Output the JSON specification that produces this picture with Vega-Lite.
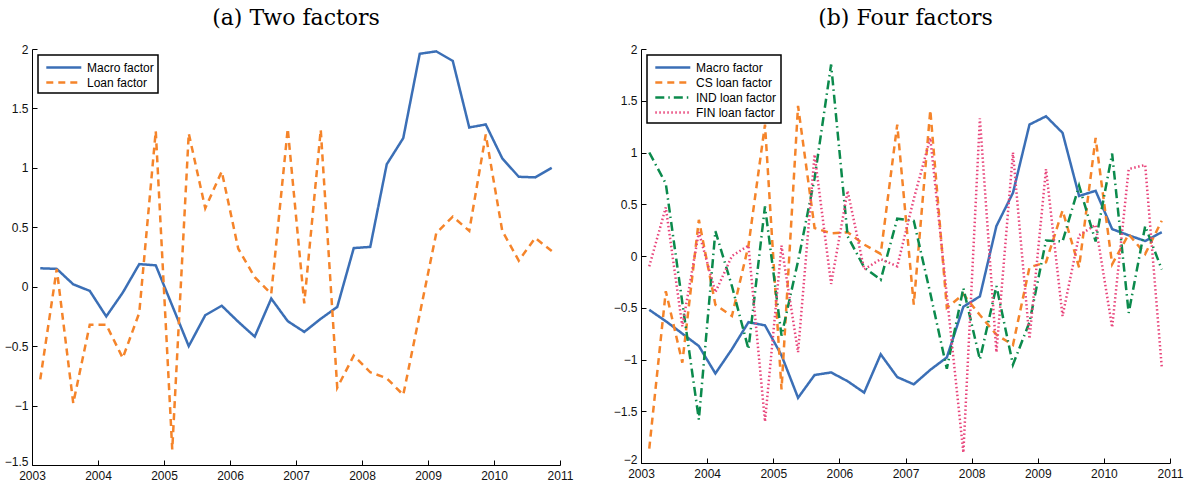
{
  "$schema": "https://vega.github.io/schema/vega-lite/v6.json",
  "background": "white",
  "padding": {"left": 4, "top": 7, "right": 12, "bottom": 2},
  "datasets": {
    "two": [
      {"t": 2003.125, "Macro factor": 0.155, "Loan factor": -0.78},
      {"t": 2003.375, "Macro factor": 0.15, "Loan factor": 0.15},
      {"t": 2003.625, "Macro factor": 0.02, "Loan factor": -0.98},
      {"t": 2003.875, "Macro factor": -0.035, "Loan factor": -0.32},
      {"t": 2004.125, "Macro factor": -0.25, "Loan factor": -0.32},
      {"t": 2004.375, "Macro factor": -0.05, "Loan factor": -0.6},
      {"t": 2004.625, "Macro factor": 0.19, "Loan factor": -0.22},
      {"t": 2004.875, "Macro factor": 0.18, "Loan factor": 1.31},
      {"t": 2005.125, "Macro factor": -0.16, "Loan factor": -1.37},
      {"t": 2005.375, "Macro factor": -0.5, "Loan factor": 1.29},
      {"t": 2005.625, "Macro factor": -0.24, "Loan factor": 0.66},
      {"t": 2005.875, "Macro factor": -0.16, "Loan factor": 0.97},
      {"t": 2006.125, "Macro factor": -0.295, "Loan factor": 0.32},
      {"t": 2006.375, "Macro factor": -0.42, "Loan factor": 0.08},
      {"t": 2006.625, "Macro factor": -0.1, "Loan factor": -0.06},
      {"t": 2006.875, "Macro factor": -0.29, "Loan factor": 1.33},
      {"t": 2007.125, "Macro factor": -0.38, "Loan factor": -0.14},
      {"t": 2007.375, "Macro factor": -0.27, "Loan factor": 1.32},
      {"t": 2007.625, "Macro factor": -0.17, "Loan factor": -0.85},
      {"t": 2007.875, "Macro factor": 0.325, "Loan factor": -0.58},
      {"t": 2008.125, "Macro factor": 0.335, "Loan factor": -0.72},
      {"t": 2008.375, "Macro factor": 1.03, "Loan factor": -0.77},
      {"t": 2008.625, "Macro factor": 1.25, "Loan factor": -0.91},
      {"t": 2008.875, "Macro factor": 1.96, "Loan factor": -0.23},
      {"t": 2009.125, "Macro factor": 1.98, "Loan factor": 0.45},
      {"t": 2009.375, "Macro factor": 1.9, "Loan factor": 0.59},
      {"t": 2009.625, "Macro factor": 1.34, "Loan factor": 0.47},
      {"t": 2009.875, "Macro factor": 1.365, "Loan factor": 1.28},
      {"t": 2010.125, "Macro factor": 1.08, "Loan factor": 0.47},
      {"t": 2010.375, "Macro factor": 0.925, "Loan factor": 0.22},
      {"t": 2010.625, "Macro factor": 0.92, "Loan factor": 0.41},
      {"t": 2010.875, "Macro factor": 1.0, "Loan factor": 0.3}
    ],
    "four": [
      {"t": 2003.125, "Macro factor": -0.52, "CS loan factor": -1.86, "IND loan factor": 1.0, "FIN loan factor": -0.1},
      {"t": 2003.375, "Macro factor": -0.63, "CS loan factor": -0.34, "IND loan factor": 0.7, "FIN loan factor": 0.47},
      {"t": 2003.625, "Macro factor": -0.75, "CS loan factor": -1.03, "IND loan factor": -0.45, "FIN loan factor": -0.68},
      {"t": 2003.875, "Macro factor": -0.87, "CS loan factor": 0.35, "IND loan factor": -1.58, "FIN loan factor": 0.23},
      {"t": 2004.125, "Macro factor": -1.135, "CS loan factor": -0.47, "IND loan factor": 0.24, "FIN loan factor": -0.35},
      {"t": 2004.375, "Macro factor": -0.9, "CS loan factor": -0.58, "IND loan factor": -0.29, "FIN loan factor": 0.0},
      {"t": 2004.625, "Macro factor": -0.64, "CS loan factor": 0.1, "IND loan factor": -0.9, "FIN loan factor": 0.1},
      {"t": 2004.875, "Macro factor": -0.67, "CS loan factor": 1.27, "IND loan factor": 0.48, "FIN loan factor": -1.6},
      {"t": 2005.125, "Macro factor": -0.96, "CS loan factor": -1.29, "IND loan factor": -0.77, "FIN loan factor": 0.1},
      {"t": 2005.375, "Macro factor": -1.37, "CS loan factor": 1.45, "IND loan factor": -0.05, "FIN loan factor": -0.93},
      {"t": 2005.625, "Macro factor": -1.15, "CS loan factor": 0.27, "IND loan factor": 0.75, "FIN loan factor": 0.98},
      {"t": 2005.875, "Macro factor": -1.125, "CS loan factor": 0.22, "IND loan factor": 1.85, "FIN loan factor": -0.27},
      {"t": 2006.125, "Macro factor": -1.21, "CS loan factor": 0.23, "IND loan factor": 0.19, "FIN loan factor": 0.63},
      {"t": 2006.375, "Macro factor": -1.32, "CS loan factor": 0.11, "IND loan factor": -0.11, "FIN loan factor": -0.13},
      {"t": 2006.625, "Macro factor": -0.95, "CS loan factor": 0.02, "IND loan factor": -0.23, "FIN loan factor": -0.03},
      {"t": 2006.875, "Macro factor": -1.17, "CS loan factor": 1.27, "IND loan factor": 0.36, "FIN loan factor": -0.1},
      {"t": 2007.125, "Macro factor": -1.24, "CS loan factor": -0.47, "IND loan factor": 0.34, "FIN loan factor": 0.55},
      {"t": 2007.375, "Macro factor": -1.1, "CS loan factor": 1.41, "IND loan factor": -0.36, "FIN loan factor": 1.14},
      {"t": 2007.625, "Macro factor": -0.98, "CS loan factor": -0.5, "IND loan factor": -1.09, "FIN loan factor": -0.38},
      {"t": 2007.875, "Macro factor": -0.49, "CS loan factor": -0.37, "IND loan factor": -0.31, "FIN loan factor": -1.9},
      {"t": 2008.125, "Macro factor": -0.39, "CS loan factor": -0.57, "IND loan factor": -1.0, "FIN loan factor": 1.33},
      {"t": 2008.375, "Macro factor": 0.29, "CS loan factor": -0.76, "IND loan factor": -0.29, "FIN loan factor": -0.93},
      {"t": 2008.625, "Macro factor": 0.61, "CS loan factor": -0.86, "IND loan factor": -1.05, "FIN loan factor": 1.0},
      {"t": 2008.875, "Macro factor": 1.27, "CS loan factor": -0.11, "IND loan factor": -0.64, "FIN loan factor": -0.8},
      {"t": 2009.125, "Macro factor": 1.35, "CS loan factor": -0.06, "IND loan factor": 0.15, "FIN loan factor": 0.84},
      {"t": 2009.375, "Macro factor": 1.19, "CS loan factor": 0.44, "IND loan factor": 0.14, "FIN loan factor": -0.58},
      {"t": 2009.625, "Macro factor": 0.58, "CS loan factor": -0.11, "IND loan factor": 0.68, "FIN loan factor": 0.2},
      {"t": 2009.875, "Macro factor": 0.63, "CS loan factor": 1.14, "IND loan factor": 0.14, "FIN loan factor": 0.3},
      {"t": 2010.125, "Macro factor": 0.26, "CS loan factor": -0.08, "IND loan factor": 0.99, "FIN loan factor": -0.69},
      {"t": 2010.375, "Macro factor": 0.2, "CS loan factor": 0.21, "IND loan factor": -0.55, "FIN loan factor": 0.84},
      {"t": 2010.625, "Macro factor": 0.145, "CS loan factor": 0.02, "IND loan factor": 0.29, "FIN loan factor": 0.88},
      {"t": 2010.875, "Macro factor": 0.23, "CS loan factor": 0.34, "IND loan factor": -0.13, "FIN loan factor": -1.07}
    ]
  },
  "spacing": 81,
  "bounds": "flush",
  "hconcat": [
    {
      "width": 528,
      "height": 416,
      "title": "(a) Two factors",
      "data": {"name": "two"},
      "transform": [{"fold": ["Macro factor", "Loan factor"], "as": ["series", "value"]}],
      "mark": {"type": "line", "strokeWidth": 2.5, "strokeCap": "butt"},
      "encoding": {
        "x": {
          "field": "t", "type": "quantitative",
          "scale": {"domain": [2003, 2011], "nice": false, "zero": false},
          "axis": {"values": [2003, 2004, 2005, 2006, 2007, 2008, 2009, 2010, 2011], "format": "d", "title": null}
        },
        "y": {
          "field": "value", "type": "quantitative",
          "scale": {"domain": [-1.5, 2], "nice": false, "zero": false},
          "axis": {
            "values": [-1.5, -1, -0.5, 0, 0.5, 1, 1.5, 2], "format": "~g", "title": null,
            "labelOffset": {"condition": {"test": "datum.value == -1.5", "value": -4}, "value": 0}
          }
        },
        "color": {
          "field": "series", "type": "nominal", "title": null,
          "scale": {"domain": ["Macro factor", "Loan factor"], "range": ["#3b6fb6", "#f5842a"]}
        },
        "strokeDash": {
          "field": "series", "type": "nominal", "title": null,
          "scale": {"domain": ["Macro factor", "Loan factor"], "range": [[1, 0], [7, 5]]}
        }
      }
    },
    {
      "width": 529,
      "height": 414,
      "title": "(b) Four factors",
      "data": {"name": "four"},
      "transform": [{"fold": ["Macro factor", "CS loan factor", "IND loan factor", "FIN loan factor"], "as": ["series", "value"]}],
      "mark": {"type": "line", "strokeCap": "butt"},
      "encoding": {
        "x": {
          "field": "t", "type": "quantitative",
          "scale": {"domain": [2003, 2011], "nice": false, "zero": false},
          "axis": {"values": [2003, 2004, 2005, 2006, 2007, 2008, 2009, 2010, 2011], "format": "d", "title": null}
        },
        "y": {
          "field": "value", "type": "quantitative",
          "scale": {"domain": [-2, 2], "nice": false, "zero": false},
          "axis": {
            "values": [-2, -1.5, -1, -0.5, 0, 0.5, 1, 1.5, 2], "format": "~g", "title": null,
            "labelOffset": {"condition": {"test": "datum.value == -2", "value": -4}, "value": 0}
          }
        },
        "color": {
          "field": "series", "type": "nominal", "title": null,
          "scale": {"domain": ["Macro factor", "CS loan factor", "IND loan factor", "FIN loan factor"], "range": ["#3b6fb6", "#f5842a", "#0b8a4c", "#e8457b"]}
        },
        "strokeDash": {
          "field": "series", "type": "nominal", "title": null,
          "scale": {"domain": ["Macro factor", "CS loan factor", "IND loan factor", "FIN loan factor"], "range": [[1, 0], [7, 5], [9, 4, 1.5, 4], [1.5, 2.5]]}
        },
        "strokeWidth": {
          "field": "series", "type": "nominal", "title": null,
          "scale": {"domain": ["Macro factor", "CS loan factor", "IND loan factor", "FIN loan factor"], "range": [2.5, 2.5, 2.5, 1.2]}
        }
      }
    }
  ],
  "resolve": {
    "scale": {"color": "independent", "strokeDash": "independent", "strokeWidth": "independent", "x": "independent", "y": "independent"},
    "legend": {"color": "independent", "strokeDash": "independent", "strokeWidth": "independent"}
  },
  "config": {
    "font": "Liberation Sans",
    "view": {"stroke": null},
    "title": {"font": "DejaVu Serif", "fontSize": 22, "fontWeight": "normal", "color": "black", "anchor": "middle", "offset": 13},
    "axis": {
      "grid": false,
      "domainColor": "black",
      "domainWidth": 1,
      "tickColor": "black",
      "tickWidth": 1,
      "tickSize": -5,
      "labelPadding": 9,
      "labelFont": "Liberation Sans",
      "labelFontSize": 12,
      "labelColor": "#111111",
      "labelFlush": false,
      "labelOverlap": false
    },
    "axisX": {"labelPadding": 10},
    "legend": {
      "orient": "top-left",
      "offset": 6,
      "strokeColor": "black",
      "strokeWidth": 1.5,
      "fillColor": "white",
      "padding": 4,
      "symbolType": "M-0.6,0H4.4",
      "symbolSize": 196,
      "symbolStrokeWidth": 2.5,
      "labelFont": "Liberation Sans",
      "labelFontSize": 12,
      "labelColor": "black",
      "labelOffset": 28,
      "rowPadding": 0
    }
  }
}
